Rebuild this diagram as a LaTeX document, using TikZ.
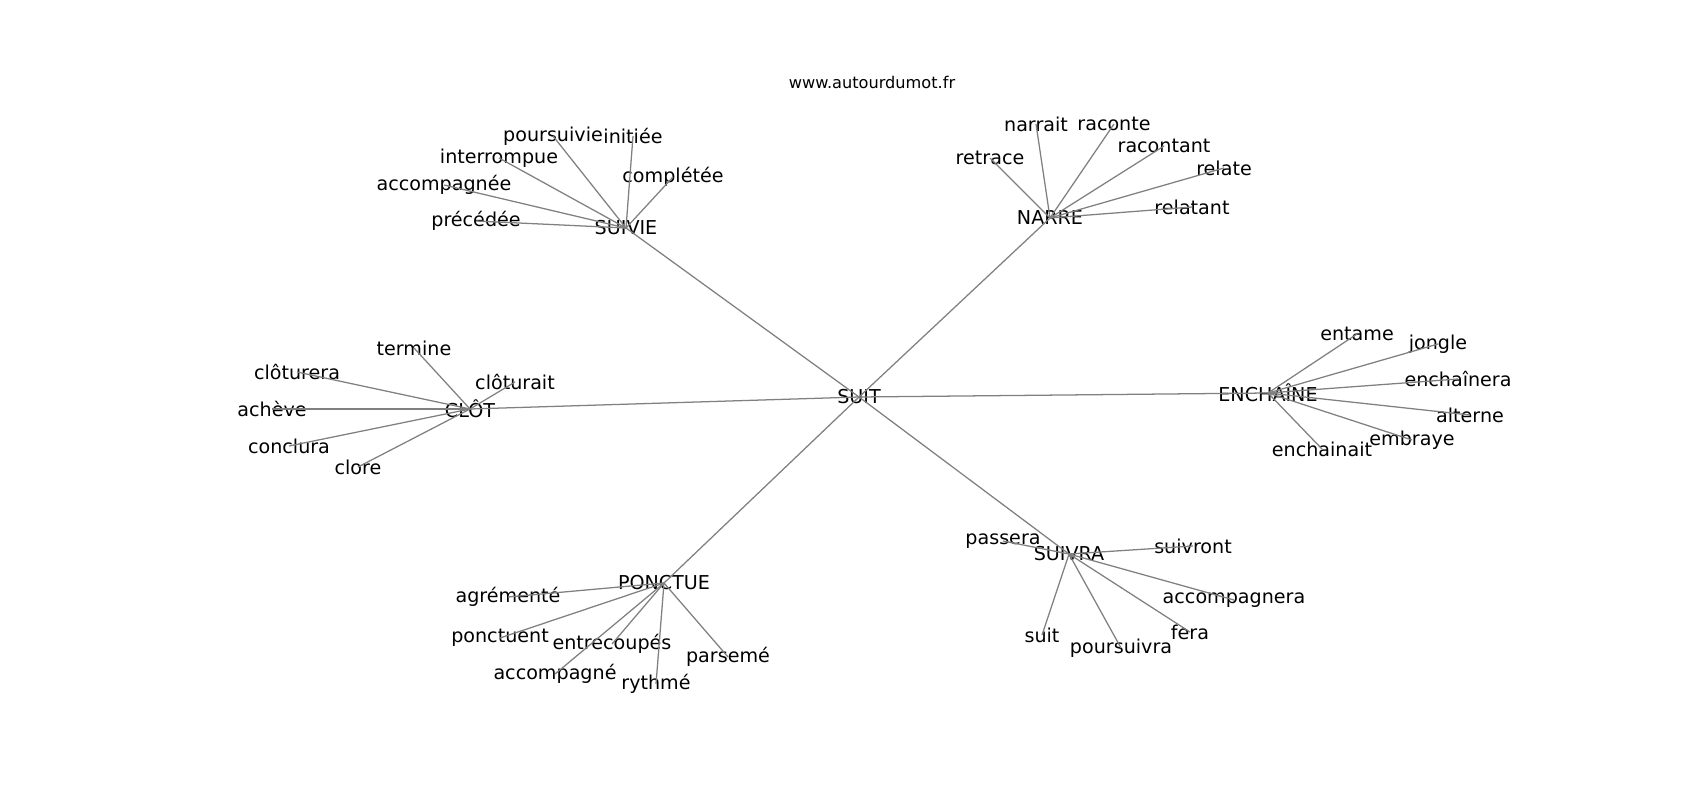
\documentclass[tikz,border=0pt]{standalone}
\usepackage{fontspec}
\setmainfont{DejaVu Sans}

\begin{document}
\begin{tikzpicture}[x=0.025cm, y=-0.025cm,
	word/.style={inner sep=0pt, font=\fontsize{13.6}{16}\selectfont},
	link/.style={draw=gray, line width=0.9pt}]
	\useasboundingbox (0,0) rectangle (1700,800);
	
	\node[inner sep=0pt, font=\fontsize{11.5}{14}\selectfont] (site) at (872,82) {www.autourdumot.fr};
	
	\node[word] (suit) at (859,397) {SUIT};
	\node[word] (suivie) at (626,228) {SUIVIE};
	\node[word] (narre) at (1050,218) {NARRE};
	\node[word] (clot) at (470,409) {CLÔT};
	\node[word] (enchaine) at (1268,393) {ENCHAÎNE};
	\node[word] (ponctue) at (664,583) {PONCTUE};
	\node[word] (suivra) at (1069,554) {SUIVRA};
	
	\node[word] (poursuivie) at (553,136) {poursuivie};
	\node[word] (initiee) at (633,136) {initiée};
	\node[word] (interrompue) at (499,158) {interrompue};
	\node[word] (accompagnee) at (444,185) {accompagnée};
	\node[word] (completee) at (673,177) {complétée};
	\node[word] (precedee) at (476,221) {précédée};
	
	\node[word] (narrait) at (1036,124) {narrait};
	\node[word] (raconte) at (1114,124) {raconte};
	\node[word] (retrace) at (990,158) {retrace};
	\node[word] (racontant) at (1164,146) {racontant};
	\node[word] (relate) at (1224,168) {relate};
	\node[word] (relatant) at (1192,207) {relatant};
	
	\node[word] (termine) at (414,348) {termine};
	\node[word] (cloturera) at (297,372) {clôturera};
	\node[word] (acheve) at (272,409) {achève};
	\node[word] (cloturait) at (515,382) {clôturait};
	\node[word] (conclura) at (289,446) {conclura};
	\node[word] (clore) at (358,467) {clore};
	
	\node[word] (entame) at (1357,334) {entame};
	\node[word] (jongle) at (1438,344) {jongle};
	\node[word] (enchainera) at (1458,379) {enchaînera};
	\node[word] (alterne) at (1470,415) {alterne};
	\node[word] (embraye) at (1412,440) {embraye};
	\node[word] (enchainait) at (1322,449) {enchainait};
	
	\node[word] (agremente) at (508,597) {agrémenté};
	\node[word] (ponctuent) at (500,638) {ponctuent};
	\node[word] (entrecoupes) at (612,644) {entrecoupés};
	\node[word] (accompagne) at (555,674) {accompagné};
	\node[word] (rythme) at (656,684) {rythmé};
	\node[word] (parseme) at (728,657) {parsemé};
	
	\node[word] (passera) at (1003,541) {passera};
	\node[word] (suivront) at (1193,546) {suivront};
	\node[word] (accompagnera) at (1234,600) {accompagnera};
	\node[word] (fera) at (1190,632) {fera};
	\node[word] (poursuivra) at (1121,648) {poursuivra};
	\node[word] (suitleaf) at (1042,635) {suit};
	
	% hub edges
	\draw[link] (suit.center) -- (suivie.center);
	\draw[link] (suit.center) -- (narre.center);
	\draw[link] (suit.center) -- (clot.center);
	\draw[link] (suit.center) -- (enchaine.center);
	\draw[link] (suit.center) -- (ponctue.center);
	\draw[link] (suit.center) -- (suivra.center);
	
	\draw[link] (suivie.center) -- (poursuivie.center);
	\draw[link] (suivie.center) -- (initiee.center);
	\draw[link] (suivie.center) -- (interrompue.center);
	\draw[link] (suivie.center) -- (accompagnee.center);
	\draw[link] (suivie.center) -- (completee.center);
	\draw[link] (suivie.center) -- (precedee.center);
	
	\draw[link] (narre.center) -- (narrait.center);
	\draw[link] (narre.center) -- (raconte.center);
	\draw[link] (narre.center) -- (retrace.center);
	\draw[link] (narre.center) -- (racontant.center);
	\draw[link] (narre.center) -- (relate.center);
	\draw[link] (narre.center) -- (relatant.center);
	
	\draw[link] (clot.center) -- (termine.center);
	\draw[link] (clot.center) -- (cloturera.center);
	\draw[link] (clot.center) -- (acheve.center);
	\draw[link] (clot.center) -- (cloturait.center);
	\draw[link] (clot.center) -- (conclura.center);
	\draw[link] (clot.center) -- (clore.center);
	
	\draw[link] (enchaine.center) -- (entame.center);
	\draw[link] (enchaine.center) -- (jongle.center);
	\draw[link] (enchaine.center) -- (enchainera.center);
	\draw[link] (enchaine.center) -- (alterne.center);
	\draw[link] (enchaine.center) -- (embraye.center);
	\draw[link] (enchaine.center) -- (enchainait.center);
	
	\draw[link] (ponctue.center) -- (agremente.center);
	\draw[link] (ponctue.center) -- (ponctuent.center);
	\draw[link] (ponctue.center) -- (entrecoupes.center);
	\draw[link] (ponctue.center) -- (accompagne.center);
	\draw[link] (ponctue.center) -- (rythme.center);
	\draw[link] (ponctue.center) -- (parseme.center);
	
	\draw[link] (suivra.center) -- (passera.center);
	\draw[link] (suivra.center) -- (suivront.center);
	\draw[link] (suivra.center) -- (accompagnera.center);
	\draw[link] (suivra.center) -- (fera.center);
	\draw[link] (suivra.center) -- (poursuivra.center);
	\draw[link] (suivra.center) -- (suitleaf.center);
\end{tikzpicture}
\end{document}
